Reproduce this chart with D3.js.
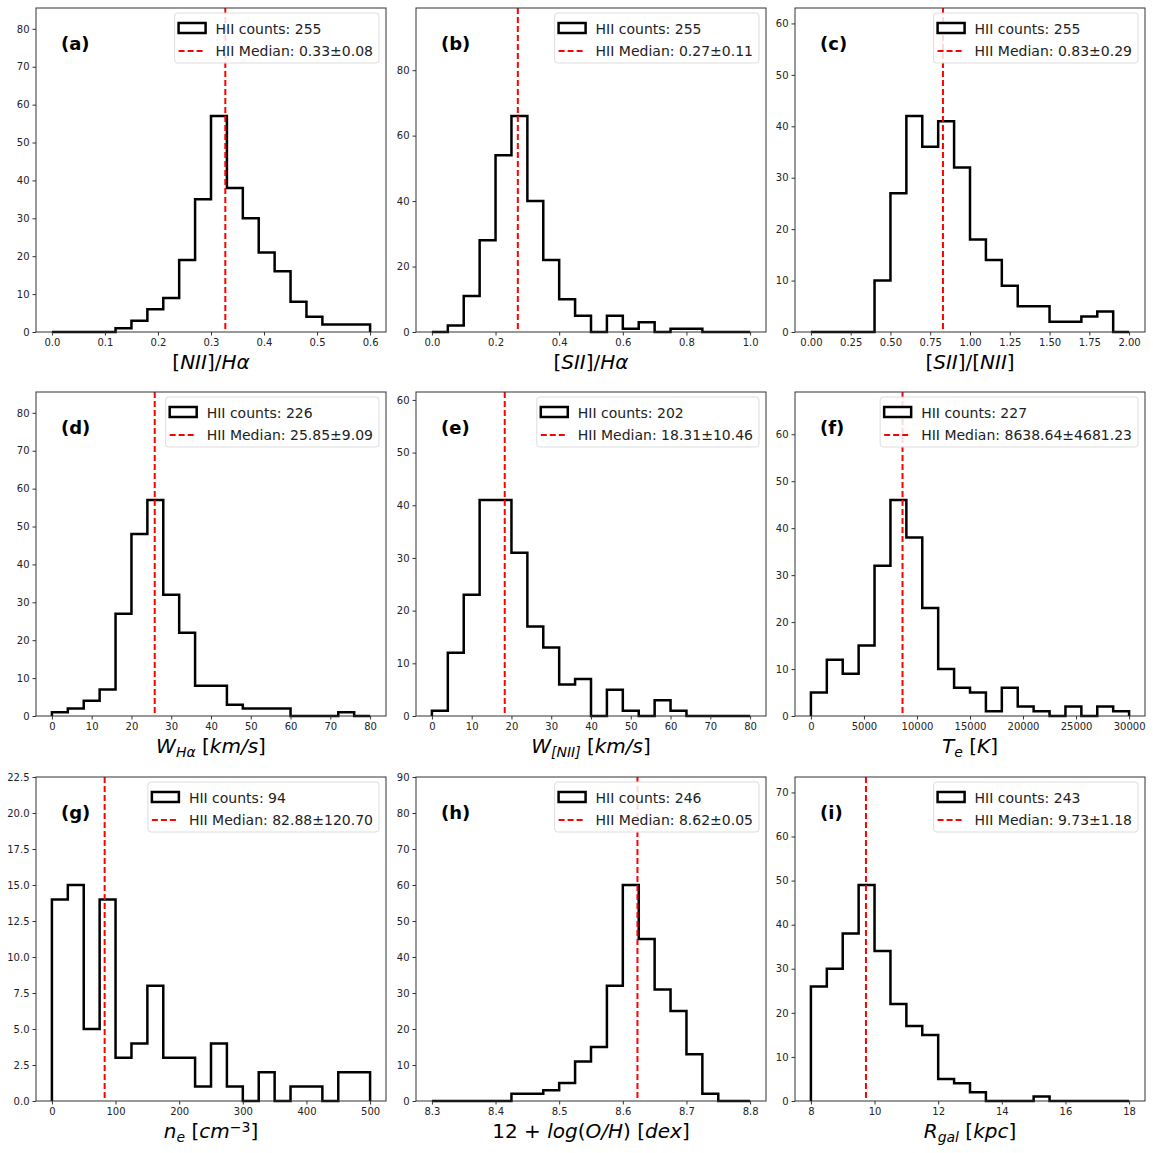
<!DOCTYPE html>
<html>
<head>
<meta charset="utf-8">
<script src="https://cdn.jsdelivr.net/npm/d3@7"></script>
<style>
  body { margin: 0; background: #fff; }
  text { font-family: "DejaVu Sans", sans-serif; }
</style>
</head>
<body>
<div id="chart"></div>
<script>
"use strict";
// bin counts (20 bins per panel)
const countsA = [0,0,0,0,1,3,6,9,19,35,57,38,30,21,16,8,4,2,2,2];
const countsB = [0,2,11,28,54,66,40,22,10,5,0,5,1,3,0,1,1,0,0,0];
const countsC = [0,0,0,0,10,27,42,36,41,32,18,14,9,5,5,2,2,3,4,0];
const countsD = [1,2,4,7,27,48,57,32,22,8,8,3,2,2,2,0,0,0,1,0];
const countsE = [1,12,23,41,41,31,17,13,6,7,0,5,1,0,3,1,0,0,0,0];
const countsF = [5,12,9,15,32,46,38,23,10,6,5,1,6,2,1,0,2,0,2,1];
const countsG = [14,15,5,14,3,4,8,3,3,1,4,1,0,2,0,1,1,0,2,2];
const countsH = [0,0,0,0,0,2,2,3,5,11,15,32,60,45,31,25,13,2,0,0];
const countsI = [26,30,38,49,34,22,17,15,5,4,2,0,0,0,1,0,0,0,0,0];

const panelLabels = ["(a)","(b)","(c)","(d)","(e)","(f)","(g)","(h)","(i)"];
const binRanges = [[0,0.6],[0,1],[0,2],[0,80],[0,80],[0,30000],[0,500],[8.3,8.8],[8,18]];
const hiiCounts = [255,255,255,226,202,227,94,246,243];
const medians = [0.327,0.27,0.83,25.85,18.31,8638.64,82.88,8.623,9.73];
const medianLabels = ["0.33±0.08","0.27±0.11","0.83±0.29","25.85±9.09","18.31±10.46",
  "8638.64±4681.23","82.88±120.70","8.62±0.05","9.73±1.18"];
const xTicks = [
  [0,0.1,0.2,0.3,0.4,0.5,0.6],
  [0,0.2,0.4,0.6,0.8,1.0],
  [0,0.25,0.5,0.75,1,1.25,1.5,1.75,2],
  [0,10,20,30,40,50,60,70,80],
  [0,10,20,30,40,50,60,70,80],
  [0,5000,10000,15000,20000,25000,30000],
  [0,100,200,300,400,500],
  [8.3,8.4,8.5,8.6,8.7,8.8],
  [8,10,12,14,16,18]
];
const xFormats = [".1f",".1f",".2f","d","d","d","d",".1f","d"];
const yTickStep = [10,20,10,10,10,10,2.5,10,10];
const yFormats = ["d","d","d","d","d","d",".1f","d","d"];
// x labels: [text, style] pieces; "sub"/"sup" for scripts
const xLabels = [
  [["[",""],["NII","i"],["]/",""],["Hα","i"]],
  [["[",""],["SII","i"],["]/",""],["Hα","i"]],
  [["[",""],["SII","i"],["]/[",""],["NII","i"],["]",""]],
  [["W","i"],["Hα","isub"],[" [",""],["km/s","i"],["]",""]],
  [["W","i"],["[NII]","isub"],[" [",""],["km/s","i"],["]",""]],
  [["T","i"],["e","isub"],[" [",""],["K","i"],["]",""]],
  [["n","i"],["e","isub"],[" [",""],["cm","i"],["−3","sup"],["]",""]],
  [["12 + ",""],["log","i"],["(",""],["O/H","i"],[") [",""],["dex","i"],["]",""]],
  [["R","i"],["gal","isub"],[" [",""],["kpc","i"],["]",""]]
];
const allCounts = [countsA,countsB,countsC,countsD,countsE,countsF,countsG,countsH,countsI];

const W = 1153, H = 1153;
const colLeft = [36, 416, 795], rowTop = [8, 392, 777];
const pw = 350, ph = 324;

const svg = d3.select("#chart").append("svg").attr("width", W).attr("height", H);

allCounts.forEach((counts, k) => {
  const col = k % 3, row = Math.floor(k / 3);
  const g = svg.append("g").attr("transform", `translate(${colLeft[col]},${rowTop[row]})`);
  const [lo, hi] = binRanges[k];
  const pad = (hi - lo) * 0.05;
  const x = d3.scaleLinear().domain([lo - pad, hi + pad]).range([0, pw]);
  const yMax = d3.max(counts) * 1.5;
  const y = d3.scaleLinear().domain([0, yMax]).range([ph, 0]);
  const bw = (hi - lo) / counts.length;

  // step outline
  const pts = [[lo, 0]];
  counts.forEach((c, i) => { pts.push([lo + i * bw, c]); pts.push([lo + (i + 1) * bw, c]); });
  pts.push([hi, 0]);
  g.append("path")
    .attr("d", d3.line().x(d => x(d[0])).y(d => y(d[1]))(pts))
    .attr("fill", "none").attr("stroke", "#000").attr("stroke-width", 2.5)
    .attr("stroke-linejoin", "miter");

  // median line
  g.append("line")
    .attr("x1", x(medians[k])).attr("x2", x(medians[k]))
    .attr("y1", 0).attr("y2", ph)
    .attr("stroke", "red").attr("stroke-width", 2).attr("stroke-dasharray", "6,3");

  // axes
  const xa = g.append("g").attr("transform", `translate(0,${ph})`)
    .call(d3.axisBottom(x).tickValues(xTicks[k]).tickFormat(d3.format(xFormats[k])).tickSize(3.5).tickSizeOuter(0));
  const yt = d3.range(0, yMax + 1e-9, yTickStep[k]);
  const ya = g.append("g")
    .call(d3.axisLeft(y).tickValues(yt).tickFormat(d3.format(yFormats[k])).tickSize(3.5).tickSizeOuter(0));
  [xa, ya].forEach(a => {
    a.select(".domain").remove();
    a.selectAll("text").attr("font-size", 10).attr("fill", "#222");
    a.selectAll("line").attr("stroke", "#333");
  });
  g.append("rect").attr("width", pw).attr("height", ph)
    .attr("fill", "none").attr("stroke", "#333").attr("stroke-width", 1);

  // panel label
  g.append("text").attr("x", 25).attr("y", 42)
    .attr("font-size", 18).attr("font-weight", "bold").text(panelLabels[k]);

  // legend, sized from the measured text
  const lg = g.append("g");
  const box = lg.append("rect").attr("height", 50).attr("rx", 3)
    .attr("fill", "#fff").attr("fill-opacity", 0.85).attr("stroke", "#ddd");
  lg.append("rect").attr("x", 4).attr("y", 10).attr("width", 27).attr("height", 10)
    .attr("fill", "#fff").attr("stroke", "#000").attr("stroke-width", 2.5);
  lg.append("line").attr("x1", 4).attr("x2", 31).attr("y1", 38).attr("y2", 38)
    .attr("stroke", "red").attr("stroke-width", 2).attr("stroke-dasharray", "6,3");
  const t1 = lg.append("text").attr("x", 41).attr("y", 21).attr("font-size", 14).attr("fill", "#222")
    .text("HII counts: " + hiiCounts[k]);
  const t2 = lg.append("text").attr("x", 41).attr("y", 43).attr("font-size", 14).attr("fill", "#222")
    .text("HII Median: " + medianLabels[k]);
  const tw = Math.max(t1.node().getComputedTextLength(), t2.node().getComputedTextLength());
  const lw = tw + 47;
  box.attr("width", lw);
  lg.attr("transform", `translate(${pw - 7 - lw},5)`);

  // x label
  const xl = g.append("text").attr("x", pw / 2).attr("y", ph + 37)
    .attr("text-anchor", "middle").attr("font-size", 20);
  xLabels[k].forEach(([t, s]) => {
    const ts = xl.append("tspan").text(t);
    if (s.includes("i")) ts.attr("font-style", "italic");
    if (s.includes("sub")) ts.attr("font-size", 14).attr("baseline-shift", "-25%");
    else if (s === "sup") ts.attr("font-size", 14).attr("baseline-shift", "45%");
  });
});
</script>
</body>
</html>
